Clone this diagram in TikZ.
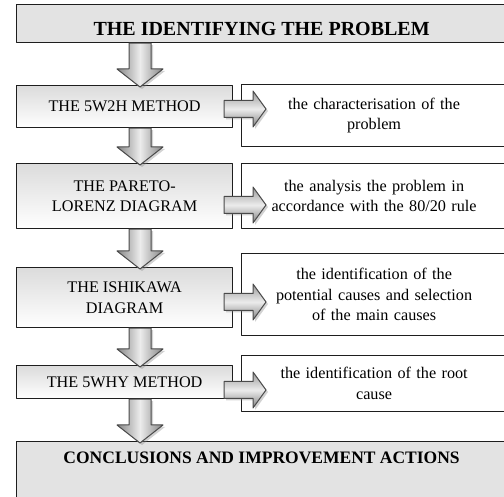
\documentclass[tikz,border=0pt]{standalone}
\usepackage{fontspec}
\setmainfont{Liberation Serif}
\usetikzlibrary{calc,shadows}
\definecolor{BoxLine}{HTML}{1E1E1E}
\definecolor{ArrowLine}{HTML}{4A4A4A}
\newcommand{\flowdown}[2]{%
  \path[downarr] let \p1=(spine |- #1.south), \p2=(spine |- #2.north) in
    (\x1-11pt,\y1) -- (\x1+11pt,\y1) -- (\x1+11pt,\y2+16pt) -- (\x1+23pt,\y2+16pt) -- (\x1,\y2-2pt)
    -- (\x1-23pt,\y2+16pt) -- (\x1-11pt,\y2+16pt) -- cycle;}
\newcommand{\flowright}[3]{%
  \path[rightarr] let \p1=(#1.east), \p2=(#2.west), \p3=(0,#3) in
    (\x1-9pt,\y3+8.5pt) -- (\x2+12pt,\y3+8.5pt) -- (\x2+12pt,\y3+18pt) -- (\x2+25pt,\y3) -- (\x2+12pt,\y3-18pt)
    -- (\x2+12pt,\y3-8.5pt) -- (\x1-9pt,\y3-8.5pt) -- cycle;}

\begin{document}
\begin{tikzpicture}[x=1pt,y=-1pt,line join=round,
    font=\fontsize{16.2}{20.5}\selectfont,
    graybox/.style={draw=BoxLine,line width=1.2pt,fill=gray!22,anchor=north west,inner sep=0pt},
    stepbox/.style={draw=BoxLine,line width=1.2pt,top color=gray!28,bottom color=white,anchor=north west,
      minimum width=216,align=center,inner sep=0pt},
    notebox/.style={draw=BoxLine,line width=1.2pt,fill=white,anchor=north west,minimum width=265,
      text width=255,align=center,inner sep=0pt},
    downarr/.style={draw=ArrowLine,line width=1pt,left color=gray!95,right color=gray!95,middle color=gray!15,
      drop shadow={shadow xshift=2pt,shadow yshift=-2pt,opacity=.35}},
    rightarr/.style={draw=ArrowLine,line width=1pt,top color=gray!80,bottom color=gray!100,middle color=gray!15,
      drop shadow={shadow xshift=2pt,shadow yshift=-2pt,opacity=.35}}]
  \useasboundingbox (0,0) rectangle (504,497); \clip (0,0) rectangle (504,497);
  \coordinate (spine) at (140,0);
  % left column
  \node[graybox,minimum width=490,text height=31pt,text depth=7pt,font=\fontsize{20}{24}\selectfont\bfseries] (ident) at (16,4) {THE IDENTIFYING THE PROBLEM};
  \node[stepbox,minimum height=42] (wh) at (16,85) {THE 5W2H METHOD};
  \node[stepbox,minimum height=65] (pareto) at (16,163) {THE PARETO-\\LORENZ DIAGRAM};
  \node[stepbox,minimum height=60] (ishi) at (16,267) {THE ISHIKAWA\\DIAGRAM};
  \node[stepbox,minimum height=33] (why) at (16,365) {THE 5WHY METHOD};
  \node[graybox,minimum width=490,text height=12pt,text depth=70pt,inner ysep=10pt,font=\fontsize{17.5}{21}\selectfont\bfseries] (concl) at (16,441) {CONCLUSIONS AND IMPROVEMENT ACTIONS};
  % right column
  \node[notebox,minimum height=62] (charac) at (241,84) {the characterisation of the\\problem};
  \node[notebox,minimum height=65] (pareto-r) at (241,163) {the analysis the problem in\\accordance with the 80/20 rule};
  \node[notebox,minimum height=82] (ishi-r) at (241,253) {the identification of the\\potential causes and selection\\of the main causes};
  \node[notebox,minimum height=56] (why-r) at (241,355) {the identification of the root\\cause};
  % arrows
  \flowdown{ident}{wh} \flowdown{wh}{pareto} \flowdown{pareto}{ishi} \flowdown{ishi}{why} \flowdown{why}{concl}
  \flowright{wh}{charac}{109} \flowright{pareto}{pareto-r}{205} \flowright{ishi}{ishi-r}{302} \flowright{why}{why-r}{390}
\end{tikzpicture}
\end{document}
